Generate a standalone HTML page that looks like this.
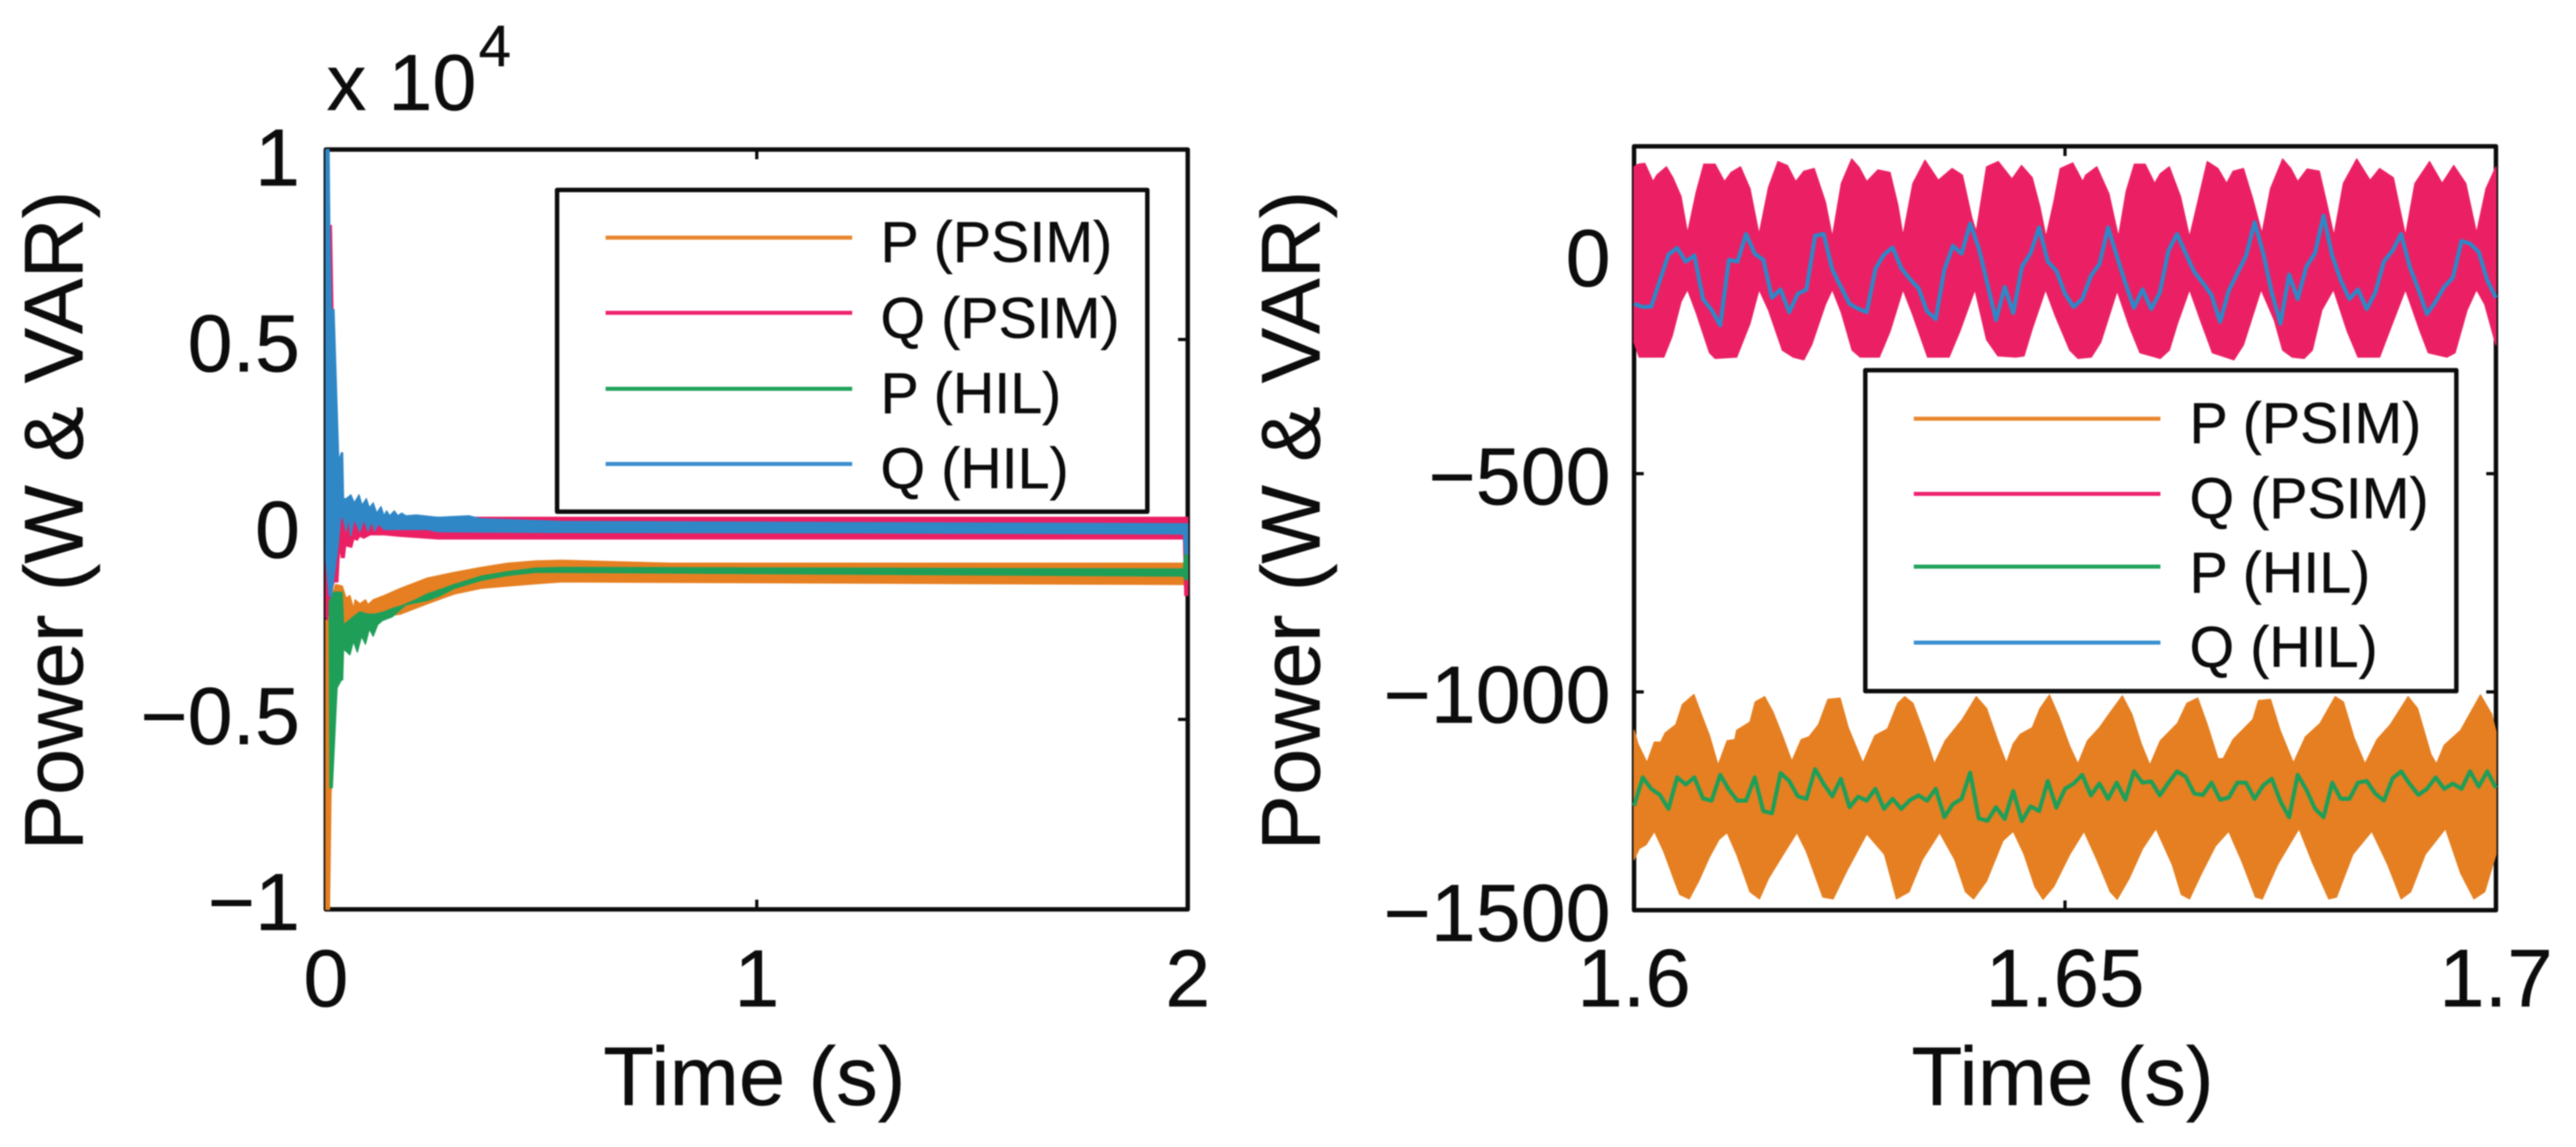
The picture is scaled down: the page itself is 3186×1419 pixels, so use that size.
<!DOCTYPE html>
<html lang="en">
<head>
<meta charset="utf-8">
<title>Power vs time: PSIM and HIL</title>
<style>
html,body{margin:0;padding:0;background:#fff;width:3186px;height:1419px;overflow:hidden}
svg{display:block}
text{font-family:"Liberation Sans",Arial,sans-serif;fill:#0c0c0c;stroke:#0c0c0c;stroke-width:0.5px}
</style>
</head>
<body>
<svg id="chart" xmlns="http://www.w3.org/2000/svg" width="3186" height="1419" viewBox="0 0 3186 1419">
  <g id="root" style="filter:blur(0.9px)">
    <g id="left-panel"></g>
    <g id="right-panel"></g>
  </g>
</svg>
<script>
// ---------- tick labels ----------
const leftXTicks = [0, 1, 2];
const leftYTicks = [1, 0.5, 0, -0.5, -1];
const leftYTickLabels = ["1", "0.5", "0", "\u22120.5", "\u22121"];
const rightXTicks = [1.6, 1.65, 1.7];
const rightXTickLabels = ["1.6", "1.65", "1.7"];
const rightYTicks = [0, -500, -1000, -1500];
const rightYTickLabels = ["0", "\u2212500", "\u22121000", "\u22121500"];
const legendLabels = ["P (PSIM)", "Q (PSIM)", "P (HIL)", "Q (HIL)"];

// ---------- full-range panel: envelopes, time in s, values in units of 10^4 ----------
const fullPPsimUpperT = [0,0.0075,0.01,0.0225,0.038,0.047,0.056,0.064,0.068,0.079,0.092,0.098,0.11,0.135,0.173,0.235,0.298,0.36,0.422,0.486,0.548,0.8,2];
const fullPPsimUpperV = [-0.238,-0.238,-0.19,-0.145,-0.149,-0.181,-0.174,-0.208,-0.185,-0.196,-0.185,-0.198,-0.185,-0.174,-0.155,-0.128,-0.113,-0.1,-0.089,-0.083,-0.081,-0.089,-0.089];
const fullPPsimLowerT = [0,0.0085,0.012,0.02,0.038,0.079,0.173,0.235,0.298,0.36,0.422,0.486,0.548,2];
const fullPPsimLowerV = [-1,-1,-0.7,-0.5,-0.251,-0.238,-0.223,-0.196,-0.17,-0.155,-0.149,-0.143,-0.138,-0.145];

const fullQPsimUpperT = [0.002,0.013,0.024,0.04,0.088,2];
const fullQPsimUpperV = [0.8,0.8,0.117,0.08,0.032,0.032];
const fullQPsimLowerT = [0,0.004,0.01,0.019,0.028,0.032,0.036,0.043,0.046,0.06,0.065,0.073,0.079,0.088,0.103,0.135,0.173,0.26,1.99,1.993,2];
const fullQPsimLowerV = [-0.23,-0.238,-0.181,-0.138,-0.138,-0.047,-0.074,-0.074,-0.043,-0.047,-0.025,-0.028,-0.018,-0.023,-0.014,-0.014,-0.018,-0.025,-0.025,-0.174,-0.174];

const fullPHilUpperT = [0.0075,0.019,0.03,0.038,0.041,0.064,0.079,0.098,0.113,0.135,0.154,0.173,0.205,0.235,0.298,0.36,0.422,0.486,0.548,1.99,1.993,2];
const fullPHilUpperV = [-0.19,-0.165,-0.165,-0.166,-0.251,-0.23,-0.217,-0.223,-0.223,-0.217,-0.208,-0.202,-0.187,-0.17,-0.145,-0.123,-0.111,-0.102,-0.1,-0.104,-0.06,-0.06];
const fullPHilLowerT = [0.0094,0.015,0.026,0.036,0.039,0.041,0.056,0.064,0.073,0.083,0.092,0.101,0.11,0.12,0.131,0.154,0.186,0.235,0.266,0.298,0.36,0.422,0.486,0.548,1.99,1.993,2];
const fullPHilLowerV = [-0.68,-0.68,-0.417,-0.396,-0.396,-0.315,-0.33,-0.294,-0.323,-0.281,-0.302,-0.262,-0.281,-0.251,-0.24,-0.23,-0.198,-0.187,-0.174,-0.155,-0.134,-0.121,-0.113,-0.113,-0.123,-0.132,-0.132];

const fullQHilUpperT = [0,0.0075,0.0094,0.013,0.019,0.026,0.03,0.036,0.039,0.041,0.047,0.058,0.066,0.077,0.084,0.094,0.101,0.11,0.118,0.128,0.135,0.141,0.148,0.159,0.167,0.176,0.186,0.21,0.26,0.332,0.36,0.548,2];
const fullQHilUpperV = [1,1,0.78,0.579,0.579,0.323,0.181,0.202,0.202,0.081,0.081,0.091,0.07,0.091,0.064,0.081,0.057,0.07,0.043,0.06,0.036,0.049,0.036,0.049,0.036,0.043,0.036,0.038,0.032,0.036,0.028,0.021,0.015];
const fullQHilLowerT = [0,0.0075,0.013,0.028,0.034,0.038,0.047,0.053,0.058,0.066,0.079,0.088,0.098,0.107,0.113,0.122,0.135,0.173,0.235,0.26,0.548,1.2,1.99,1.993,2];
const fullQHilLowerV = [-0.081,-0.174,-0.177,-0.047,0.026,0.038,-0.004,0.032,-0.017,0.028,-0.006,0.026,-0.004,0.021,-0.004,0.015,0,0,0,-0.006,-0.008,-0.009,-0.012,-0.064,-0.064];

// ---------- zoomed panel: envelopes, time in ms after 1.6 s, values in W / VAR ----------
const zoomQUpperMs = [0,0.5,1.25,2.2,2.65,3.75,4.5,5.45,6.2,7.2,8.1,9.4,10.5,11.25,12.35,13.45,14.5,15.6,16.7,17.8,18.75,19.7,20.9,22.2,23,24.05,25.25,26.1,27,28.3,29.7,30.6,31.2,32.35,33.75,34.5,35.3,36.9,38.1,39.2,39.7,40.9,42.25,43.85,44.95,46.2,47.1,47.8,48.7,49.45,50.9,52.05,52.4,53.7,55.1,56.2,57.1,58.05,59.3,60.4,61.05,62.1,63.4,64.45,65.4,66.5,67.75,68.75,69.5,70.7,71.8,72.85,73.85,75.25,76.2,77,78.1,79.5,80.4,81.2,82.3,83.85,85.4,86.5,88.1,89.5,90.6,92.3,93.75,95.1,96.5,97.75,98.85,100];
const zoomQUpperV = [203,209,211,169,184,203,178,135,51,144,209,209,169,190,203,153,48,156,215,206,169,193,199,122,42,165,221,202,169,196,190,116,45,165,218,196,172,199,184,85,54,203,215,175,206,178,110,42,122,199,212,169,184,203,141,42,147,209,209,165,187,203,135,42,122,215,199,165,193,199,128,50,153,221,199,169,198,193,116,45,165,221,172,199,178,45,165,215,165,206,165,51,153,203];
const zoomQLowerMs = [0,0.6,3.45,4.4,5.45,6.2,7.2,8.75,9.4,11.9,13.45,14.5,15.6,17.2,18.45,19.7,20.6,22.2,23,24.05,25.3,26.25,28.45,29.7,31.2,32.35,34.05,36.55,37.8,39.55,40.9,42.2,44.3,45.25,46.2,47.75,48.85,50.55,51.5,53.05,54.15,56.05,57.45,58.7,61.05,62.1,63.05,64.45,65.85,67.1,69.6,70.7,72.75,74.3,75.25,76.35,77.75,78.7,79.8,81.15,82.75,84,86.5,87.75,89.5,91.2,92.15,94.3,95.25,96.65,97.75,98.7,100];
const zoomQLowerV = [-199,-233,-233,-186,-106,-78,-131,-223,-236,-233,-156,-78,-125,-217,-233,-239,-205,-112,-78,-131,-217,-233,-233,-174,-78,-137,-233,-233,-174,-78,-193,-230,-233,-230,-168,-78,-137,-217,-236,-233,-199,-81,-162,-223,-236,-217,-156,-78,-156,-223,-239,-205,-78,-149,-217,-233,-236,-217,-125,-78,-174,-233,-233,-168,-78,-174,-223,-233,-223,-125,-78,-112,-205];

const zoomPUpperMs = [0,0.45,1.5,2.35,3.1,3.6,4.85,5.6,6.95,7.8,8.75,9.75,10.8,11.7,11.9,13.45,14.05,15.15,16.1,17.2,18.3,19.4,20.3,21.4,22.5,23.9,24.85,26.55,27.95,29.4,30.6,31.4,32.35,33.75,34.85,36.1,38.1,39.7,40.9,42.2,43.2,44,44.8,46.2,47.1,48.2,49.3,50.55,51.5,52.6,54,55.1,56.65,57.75,58.85,59.85,61.05,63.05,64.15,65.4,66.5,67.75,68.35,69.5,71.8,72.45,73.85,74.95,76.5,77.9,79.6,81.35,82.3,83.55,84.8,86.2,87.75,89.8,90.9,92.45,93.1,94,95.9,98.2,99.5,100];
const zoomPUpperV = [-1088,-1119,-1162,-1115,-1115,-1094,-1075,-1029,-1006,-1051,-1100,-1168,-1112,-1109,-1088,-1069,-1023,-1011,-1045,-1100,-1159,-1109,-1103,-1075,-1017,-1014,-1082,-1163,-1100,-1085,-1026,-1011,-1026,-1100,-1165,-1112,-1063,-1011,-1038,-1112,-1163,-1119,-1097,-1082,-1038,-1007,-1057,-1125,-1165,-1112,-1082,-1051,-1009,-1051,-1119,-1168,-1112,-1072,-1026,-1014,-1075,-1153,-1153,-1109,-1063,-1020,-1017,-1088,-1163,-1103,-1072,-1011,-1023,-1106,-1165,-1109,-1075,-1011,-1038,-1143,-1165,-1122,-1088,-1007,-1051,-1091];
const zoomPLowerMs = [0,0.6,1.4,2.35,3.45,4.7,5.3,6.4,7.5,8.75,9.85,10.8,11.9,13.45,14.55,15.6,17.5,18.9,20,21.9,23.1,24.7,27,29.05,30.45,31.9,33.45,35.45,37.2,38.45,39.4,40.9,42.8,44,45.25,46.5,47.45,48.7,50.55,52.2,53.7,55.25,56.05,57.45,59,60.55,62.45,63.5,64.45,65.85,67.45,69,70.55,72.1,72.9,74.65,77.15,78.7,80.6,81.5,83.4,85.6,87.45,89,90.1,91.8,94.15,95.9,97.45,98.7,100];
const zoomPLowerV = [-1384,-1359,-1350,-1319,-1366,-1433,-1464,-1474,-1433,-1378,-1338,-1322,-1372,-1458,-1474,-1427,-1366,-1322,-1366,-1470,-1474,-1409,-1325,-1372,-1474,-1458,-1384,-1322,-1384,-1458,-1474,-1433,-1341,-1319,-1372,-1446,-1475,-1446,-1372,-1319,-1384,-1458,-1475,-1427,-1359,-1313,-1396,-1464,-1474,-1415,-1353,-1319,-1390,-1470,-1474,-1396,-1313,-1390,-1474,-1470,-1372,-1319,-1396,-1474,-1458,-1372,-1313,-1415,-1474,-1458,-1372];

// HIL traces: one sample per ms
const zoomQHil = [-111,-118,-117,-57,2,17,-14,0,-100,-125,-160,-10,-14,49,4,-10,-97,-78,-130,-88,-78,45,49,-32,-72,-111,-122,-130,-31,2,18,-29,-54,-75,-128,-146,-32,22,4,73,17,-66,-148,-72,-132,-26,5,64,-14,-35,-88,-118,-100,-47,-20,64,-1,-63,-120,-78,-123,-85,11,49,5,-38,-63,-91,-152,-81,-41,-1,76,5,-86,-156,-44,-100,-26,5,91,-1,-57,-100,-78,-123,-85,-14,11,49,-26,-78,-134,-106,-72,-51,33,27,8,-57,-97];
const zoomPHil = [-1261,-1196,-1222,-1236,-1268,-1196,-1212,-1196,-1244,-1249,-1190,-1224,-1249,-1249,-1196,-1273,-1278,-1186,-1204,-1239,-1245,-1177,-1211,-1239,-1199,-1264,-1240,-1249,-1222,-1268,-1245,-1268,-1248,-1237,-1249,-1222,-1287,-1257,-1245,-1185,-1290,-1295,-1264,-1291,-1227,-1296,-1262,-1273,-1204,-1265,-1222,-1210,-1190,-1237,-1210,-1245,-1208,-1247,-1182,-1208,-1205,-1237,-1208,-1182,-1194,-1233,-1236,-1208,-1247,-1242,-1208,-1208,-1245,-1214,-1199,-1251,-1287,-1190,-1224,-1267,-1287,-1208,-1245,-1245,-1208,-1204,-1233,-1249,-1198,-1182,-1211,-1236,-1222,-1196,-1222,-1210,-1222,-1182,-1217,-1182,-1220];

// ---------- axis functions ----------
const xFull = t => 403 + t * 533;
const yFull = v => 655 - v * 470;
const xZoom = t => 2021 + (t - 1.6) * 10660;
const yZoom = v => 316 - v * 0.54;
const msToSec = ms => 1.6 + ms / 1000;

const NS = "http://www.w3.org/2000/svg";
const COLORS = { p: "#E57F21", q: "#EB2064", ph: "#1F9E58", qh: "#2F87C6" };

function make(parent, tag, attrs, text) {
  const el = document.createElementNS(NS, tag);
  for (const k in attrs) el.setAttribute(k, attrs[k]);
  if (text !== undefined) el.textContent = text;
  parent.appendChild(el);
  return el;
}

function addText(parent, name, x, y, size, anchor, str, extra) {
  const el = make(parent, "text", Object.assign({ x: x, y: y, "font-size": size, "text-anchor": anchor }, extra || {}), str);
  
  
  return el;
}

function addLine(parent, name, x1, y1, x2, y2, color, w) {
  const el = make(parent, "line", { x1: x1, y1: y1, x2: x2, y2: y2, stroke: color, "stroke-width": w });
  
  
  return el;
}

function band(parent, name, color, xf, yf, upT, upV, loT, loV) {
  const pts = [];
  upT.forEach((t, i) => pts.push(xf(t).toFixed(1) + "," + yf(upV[i]).toFixed(1)));
  for (let i = loT.length - 1; i >= 0; i--) pts.push(xf(loT[i]).toFixed(1) + "," + yf(loV[i]).toFixed(1));
  const el = make(parent, "polygon", { points: pts.join(" "), fill: color, stroke: color, "stroke-width": 1.5, "stroke-linejoin": "round" });
  
  
  return el;
}

function trace(parent, name, color, values) {
  const pts = values.map((v, i) => xZoom(msToSec(i)).toFixed(1) + "," + yZoom(v).toFixed(1));
  const el = make(parent, "polyline", { points: pts.join(" "), fill: "none", stroke: color, "stroke-width": 5, "stroke-linejoin": "round" });
  
  
  return el;
}

function frame(parent, prefix, L, T, R, B) {
  const el = make(parent, "rect", { x: L, y: T, width: R - L, height: B - T, fill: "#fff", stroke: "#0c0c0c", "stroke-width": 5.5, "stroke-linejoin": "round" });
  
  
  return el;
}

function legend(parent, prefix, bx, by, bw, bh, sx1, sx2, tx, sampleYs, baseYs) {
  const g = make(parent, "g", {});
  
  
  const box = make(g, "rect", { x: bx, y: by, width: bw, height: bh, fill: "#fff", stroke: "#0c0c0c", "stroke-width": 5.5, "stroke-linejoin": "round" });
  
  
  const cols = ["#E8872E", "#EE2470", "#22A35D", "#3A8FD0"];
  const keys = ["p-psim", "q-psim", "p-hil", "q-hil"];
  legendLabels.forEach((lab, i) => {
    addLine(g, prefix + '-legend-swatch-' + keys[i], sx1, sampleYs[i], sx2, sampleYs[i], cols[i], 5);
    addText(g, prefix + '-legend-label-' + keys[i], tx, baseYs[i], 71, "start", lab);
  });
}

// ---------- left panel ----------
(function () {
  const p = document.getElementById("left-panel");
  const L = xFull(0), R = xFull(2), T = yFull(1), B = yFull(-1);
  frame(p, "left", L, T, R, B);
  leftXTicks.forEach(t => {
    addLine(p, 'left-x-tick-bottom-' + t, xFull(t), B, xFull(t), B - 12, "#0c0c0c", 4);
    addLine(p, 'left-x-tick-top-' + t, xFull(t), T, xFull(t), T + 12, "#0c0c0c", 4);
    addText(p, 'left-x-tick-label-' + t, xFull(t), 1245, 100, "middle", String(t));
  });
  leftYTicks.forEach((v, i) => {
    addLine(p, 'left-y-tick-left-' + v, L, yFull(v), L + 12, yFull(v), "#0c0c0c", 4);
    addLine(p, 'left-y-tick-right-' + v, R, yFull(v), R - 12, yFull(v), "#0c0c0c", 4);
    const y = yFull(v);
    addText(p, 'left-y-tick-label-' + v, 371, 655 + (y - 655) * 0.98 + 35, 100, "end", leftYTickLabels[i]);
  });
  band(p, "series-p-psim-full", COLORS.p, xFull, yFull, fullPPsimUpperT, fullPPsimUpperV, fullPPsimLowerT, fullPPsimLowerV);
  band(p, "series-q-psim-full", COLORS.q, xFull, yFull, fullQPsimUpperT, fullQPsimUpperV, fullQPsimLowerT, fullQPsimLowerV);
  band(p, "series-p-hil-full", COLORS.ph, xFull, yFull, fullPHilUpperT, fullPHilUpperV, fullPHilLowerT, fullPHilLowerV);
  band(p, "series-q-hil-full", COLORS.qh, xFull, yFull, fullQHilUpperT, fullQHilUpperV, fullQHilLowerT, fullQHilLowerV);
  legend(p, "left", 689, 235, 730, 398, 749, 1054, 1089, [294, 387, 481, 574], [324, 418, 511, 604]);
  addText(p, "left-x-axis-title", 933, 1367, 103, "middle", "Time (s)");
  addText(p, "left-y-axis-title", 0, 0, 103, "middle", "Power (W & VAR)", { transform: "translate(102,644) rotate(-90)" });
  addText(p, "left-exponent-base", 404, 136, 98, "start", "x 10");
  addText(p, "left-exponent-power", 592, 82, 72, "start", "4");
})();

// ---------- right panel ----------
(function () {
  const p = document.getElementById("right-panel");
  const L = xZoom(1.6), R = xZoom(1.7), T = yZoom(250), B = yZoom(-1500);
  frame(p, "right", L, T, R, B);
  rightXTicks.forEach((t, i) => {
    addLine(p, 'right-x-tick-bottom-' + t, xZoom(t), B, xZoom(t), B - 12, "#0c0c0c", 4);
    addLine(p, 'right-x-tick-top-' + t, xZoom(t), T, xZoom(t), T + 12, "#0c0c0c", 4);
    addText(p, 'right-x-tick-label-' + t, xZoom(t), 1245, 101, "middle", rightXTickLabels[i]);
  });
  rightYTicks.forEach((v, i) => {
    addLine(p, 'right-y-tick-left-' + v, L, yZoom(v), L + 12, yZoom(v), "#0c0c0c", 4);
    addLine(p, 'right-y-tick-right-' + v, R, yZoom(v), R - 12, yZoom(v), "#0c0c0c", 4);
    addText(p, 'right-y-tick-label-' + v, 1992, yZoom(v) + 38, 100, "end", rightYTickLabels[i]);
  });
  const sec = a => a.map(msToSec);
  band(p, "series-p-psim-zoom", COLORS.p, xZoom, yZoom, sec(zoomPUpperMs), zoomPUpperV, sec(zoomPLowerMs), zoomPLowerV);
  band(p, "series-q-psim-zoom", COLORS.q, xZoom, yZoom, sec(zoomQUpperMs), zoomQUpperV, sec(zoomQLowerMs), zoomQLowerV);
  trace(p, "series-p-hil-zoom", COLORS.ph, zoomPHil);
  trace(p, "series-q-hil-zoom", COLORS.qh, zoomQHil);
  legend(p, "right", 2307, 458, 731, 397, 2367, 2672, 2708, [518, 611, 701, 795], [548, 641, 733, 825]);
  addText(p, "right-x-axis-title", 2551, 1367, 103, "middle", "Time (s)");
  addText(p, "right-y-axis-title", 0, 0, 103, "middle", "Power (W & VAR)", { transform: "translate(1632,644) rotate(-90)" });
})();
</script>
</body>
</html>
